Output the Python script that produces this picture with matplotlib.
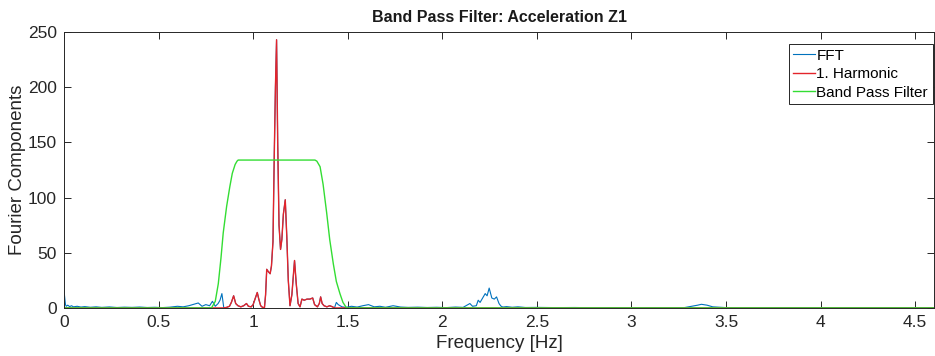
import numpy as np
import matplotlib.pyplot as plt

# FFT below the harmonic band
low_f = [0.000, 0.004, 0.008, 0.012, 0.02, 0.03, 0.04, 0.05, 0.07, 0.09, 0.11, 0.14, 0.17,
         0.20, 0.24, 0.28, 0.32, 0.36, 0.40, 0.44, 0.48, 0.52, 0.56, 0.60, 0.63, 0.66,
         0.69, 0.71, 0.73, 0.75, 0.77, 0.785, 0.80, 0.815, 0.825, 0.835]
low_v = [16, 9, 3, 1.5, 2.5, 1.2, 2, 1, 1.5, 0.8, 1.2, 0.6, 1, 0.5, 0.9, 0.4, 0.7, 0.5,
         0.8, 0.4, 0.6, 0.3, 0.7, 1.5, 1, 2, 3.5, 4.5, 1.5, 3, 2, 6, 1.5, 4, 7, 13]

# 1. harmonic (FFT inside the band)
band_f = [0.845, 0.86, 0.875, 0.885, 0.897, 0.908, 0.92, 0.935, 0.95, 0.965, 0.975,
          0.99, 1.00, 1.01, 1.022, 1.03, 1.04, 1.05, 1.06, 1.066, 1.072, 1.08, 1.09,
          1.097, 1.105, 1.112, 1.118, 1.124, 1.130, 1.137, 1.145, 1.152, 1.16, 1.17,
          1.178, 1.186, 1.195, 1.205, 1.213, 1.219, 1.228, 1.238, 1.248, 1.258, 1.27,
          1.285, 1.30, 1.315, 1.325, 1.34, 1.35, 1.357, 1.365, 1.375, 1.39, 1.405,
          1.42, 1.43]
band_v = [0, 0.5, 1.5, 5, 11, 4, 2, 1, 2, 4, 1.5, 1, 3, 8, 14, 8, 2, 0.5, 0.3, 12, 35,
          33, 31, 38, 60, 140, 200, 243, 150, 75, 53, 62, 85, 98, 65, 25, 2, 12, 30, 43,
          22, 4, 1, 8, 7, 8, 8, 9, 3, 1, 4, 10, 4, 2, 1, 2, 1, 0]

# FFT above the harmonic band
high_f = [1.44, 1.45, 1.47, 1.49, 1.52, 1.55, 1.58, 1.61, 1.64, 1.67, 1.70, 1.74, 1.78,
          1.82, 1.87, 1.92, 1.97, 2.02, 2.07, 2.11, 2.146, 2.16, 2.18, 2.19, 2.20, 2.21,
          2.227, 2.237, 2.248, 2.262, 2.275, 2.287, 2.30, 2.31, 2.32, 2.34, 2.37, 2.40,
          2.44, 2.50, 2.6, 2.7, 2.8, 2.9, 3.0, 3.1, 3.2, 3.28, 3.32, 3.35, 3.37, 3.40,
          3.43, 3.5, 3.6, 3.8, 4.0, 4.2, 4.4, 4.6]
high_v = [5, 3, 1, 0.5, 1.5, 0.8, 2, 3, 1, 1.5, 0.6, 2, 0.8, 0.5, 0.7, 0.4, 0.6, 0.3,
          0.8, 0.5, 4, 1.5, 2, 7, 5, 8, 13, 11, 18, 9, 8, 10, 4, 1.7, 0.8, 1.2, 0.6, 1,
          0.4, 0.5, 0.3, 0.4, 0.2, 0.3, 0.2, 0.3, 0.2, 0.3, 1.5, 2.5, 3.3, 2.5, 1, 0.3,
          0.2, 0.3, 0.2, 0.2, 0.2, 0.2]

# band pass filter shape
bp_f = [0.0, 0.78, 0.80, 0.816, 0.83, 0.842, 0.86, 0.877, 0.89, 0.905, 0.915, 0.921,
        1.327, 1.337, 1.354, 1.37, 1.389, 1.405, 1.424, 1.44, 1.459, 1.475, 1.494, 4.6]
bp_v = [0, 0, 6, 22, 45, 68, 92, 110, 122, 130, 133, 134, 134, 133, 128, 112, 86, 62,
        40, 24, 13, 5, 0, 0]

fft_f = low_f + band_f + high_f
fft_v = low_v + band_v + high_v
harm_f = [0.0] + band_f + [4.6]
harm_v = [0] + band_v + [0]

plt.rcParams['font.family'] = ['Liberation Sans', 'DejaVu Sans']
fig = plt.figure(figsize=(9.35, 3.56), dpi=100)
ax = fig.add_axes([0.0684, 0.135, 0.9306, 0.775])

ax.plot(fft_f, fft_v, color='#0072BD', lw=0.8, label='FFT')
ax.plot(harm_f, harm_v, color='#e3242b', lw=1.0, label='1. Harmonic')
ax.plot(bp_f, bp_v, color='#33dd33', lw=1.0, label='Band Pass Filter')

ax.set_xlim(0, 4.6)
ax.set_ylim(0, 250)
ax.set_xticks(np.arange(0, 4.6, 0.5))
ax.set_xticklabels(['0', '0.5', '1', '1.5', '2', '2.5', '3', '3.5', '4', '4.5'])
ax.set_yticks([0, 50, 100, 150, 200, 250])
ax.tick_params(direction='in', top=True, right=True, length=5, width=0.7,
               colors='#262626', labelsize=12.5, pad=5)
for s in ax.spines.values():
    s.set_color('#262626')
    s.set_linewidth(0.7)

ax.set_xlabel('Frequency [Hz]', fontsize=13.5, color='#262626', labelpad=4)
ax.set_ylabel('Fourier Components', fontsize=13.5, color='#262626', labelpad=1)
ax.set_title('Band Pass Filter: Acceleration Z1', fontsize=11.5, fontweight='bold',
             color='#1a1a1a', pad=7)

leg = ax.legend(loc='upper right', bbox_to_anchor=(1.0, 0.962), fontsize=11,
                fancybox=False, framealpha=1, edgecolor='#262626', handlelength=1.4,
                handletextpad=0.1, borderpad=0.3, labelspacing=0.3, borderaxespad=0.1)
leg.get_frame().set_linewidth(0.7)

plt.savefig('out.png', dpi=100)
